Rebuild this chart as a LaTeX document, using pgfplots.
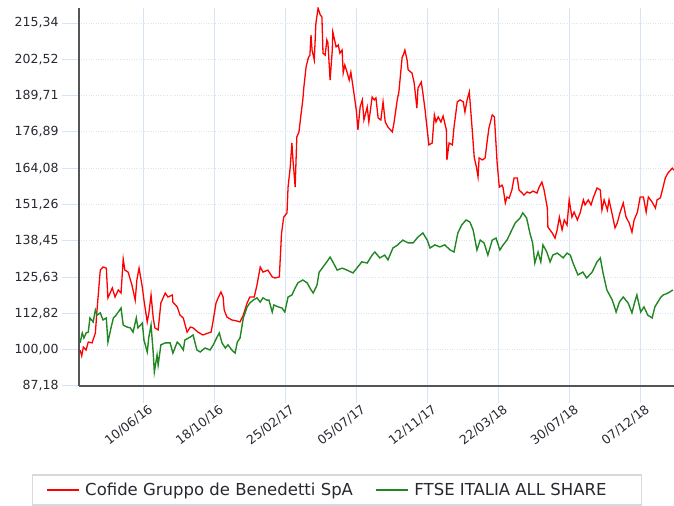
\documentclass[border=0pt]{standalone}
\usepackage{fontspec}
\setmainfont{DejaVu Sans}
\usepackage{pgfplots}
\pgfplotsset{compat=1.18}
\usepackage{pgfplotstable}
\definecolor{gridblue}{RGB}{214,228,245}
\definecolor{cred}{RGB}{255,0,0}
\definecolor{cgreen}{RGB}{34,134,34}
\definecolor{axisgray}{RGB}{85,85,85}
\definecolor{lblcol}{RGB}{40,40,50}

\pgfplotstableread{
day value
-116 99.9
-113 97.8
-110 100.9
-105 99.9
-101 102.7
-94 102.4
-88 105.9
-85 114.0
-79 128.1
-74 129.2
-68 128.8
-65 118.3
-57 121.8
-52 118.6
-46 121.1
-41 120.0
-37 132.0
-34 128.1
-28 127.4
-21 122.8
-15 117.5
-12 124.6
-8 128.8
-2 122.1
1 117.5
7 109.8
10 112.9
14 119.3
18 111.2
21 107.7
27 107.0
32 116.5
40 120.0
45 118.6
53 119.3
54 116.8
62 115.1
67 112.2
73 111.2
80 106.2
86 108.0
91 107.7
100 106.2
109 105.2
119 105.9
124 106.2
128 110.5
133 116.5
137 118.3
142 120.4
146 118.6
148 114.0
153 111.5
162 110.5
172 110.1
177 109.8
183 112.2
190 116.5
195 118.6
203 118.6
208 122.8
214 129.2
219 127.4
228 128.1
236 125.7
241 125.3
249 125.7
253 141.0
257 146.8
263 148.3
265 157.4
269 164.5
272 173.0
274 167.0
278 157.4
281 175.1
285 176.9
289 183.6
292 188.2
294 192.8
298 199.8
302 203.0
305 204.0
307 211.1
309 205.8
313 202.3
316 215.3
320 220.6
324 218.2
327 217.5
329 204.7
333 204.0
336 209.4
338 208.3
342 195.2
346 205.8
347 212.2
353 206.9
357 207.6
360 204.7
364 205.8
366 197.7
369 200.5
373 198.0
377 195.2
380 198.0
384 192.8
390 184.6
393 177.6
397 185.7
401 188.2
404 181.1
410 185.7
413 180.4
419 189.2
423 188.2
426 188.9
430 181.8
435 181.1
439 187.5
443 180.4
448 178.6
456 176.9
459 180.0
465 188.2
468 191.0
474 203.3
476 204.0
479 205.8
483 202.3
485 198.8
492 197.7
496 194.2
501 185.3
503 192.4
509 194.5
512 190.6
516 184.6
520 177.6
523 172.3
529 173.0
533 182.9
536 180.4
540 182.2
545 180.4
549 182.5
555 177.6
556 167.0
560 173.0
566 172.3
569 178.6
575 187.5
580 188.2
586 187.5
589 183.9
593 188.2
597 191.0
602 178.6
606 168.0
610 164.5
613 161.0
615 167.7
621 167.0
626 167.7
630 174.0
633 178.3
639 182.9
643 182.2
648 165.9
652 157.4
657 158.1
659 157.1
663 151.8
666 153.9
670 153.5
675 156.4
679 160.6
685 160.6
688 156.4
694 155.3
697 154.6
703 155.7
708 155.3
714 156.0
721 155.3
725 157.4
730 159.2
734 156.4
740 150.0
741 143.3
749 141.2
754 139.4
758 142.3
762 146.8
767 142.3
771 145.8
776 144.0
780 152.9
785 146.8
789 148.6
795 145.8
800 148.3
806 152.9
809 151.1
815 152.9
820 151.1
824 153.6
831 157.1
837 156.4
840 149.3
844 152.9
850 149.3
853 152.9
859 147.6
864 143.0
868 144.7
873 148.3
879 151.8
884 146.9
890 144.7
895 141.5
899 145.8
905 148.6
910 153.9
916 153.9
921 148.6
925 153.9
932 152.1
938 150.0
941 152.9
947 153.6
952 157.4
956 160.6
961 162.4
969 164.1
972 163.4
}\cofide

\pgfplotstableread{
day value
-116 102.4
-112 105.9
-109 104.1
-105 105.9
-101 106.2
-98 111.2
-92 109.8
-88 114.0
-85 112.2
-79 113.0
-74 110.5
-68 111.2
-65 102.7
-59 108.0
-55 111.2
-50 112.2
-46 113.3
-41 114.7
-37 108.7
-30 108.0
-24 107.7
-19 106.2
-13 111.2
-10 107.7
-2 109.4
1 103.4
7 99.2
10 104.5
14 108.7
18 98.8
20 92.1
25 98.1
27 94.6
32 101.7
40 102.4
49 102.4
54 98.8
62 102.7
67 101.7
73 99.9
76 103.4
86 104.5
91 105.2
98 99.9
104 99.2
113 100.6
122 99.9
128 101.7
135 104.5
139 105.9
144 102.4
150 100.6
155 101.7
162 99.9
168 98.8
172 102.7
177 104.1
183 111.2
190 115.1
195 116.5
201 117.5
208 118.3
214 116.8
219 118.3
226 117.5
230 117.5
236 113.3
239 115.8
247 115.1
254 114.7
259 113.3
265 118.6
272 119.3
278 121.8
283 123.6
292 124.6
300 123.6
305 121.8
311 120.0
318 122.8
322 127.4
329 129.2
336 131.0
342 132.7
347 131.0
355 128.1
364 128.8
373 128.1
384 127.1
391 128.8
400 131.0
410 130.6
419 133.4
424 134.5
433 132.4
442 133.4
448 131.7
457 135.9
466 137.0
475 138.7
485 137.7
494 137.7
503 139.8
512 141.2
520 138.7
525 135.9
534 137.0
543 136.3
552 137.0
562 135.2
569 134.5
576 141.2
583 144.0
591 145.8
598 145.1
604 142.3
611 135.2
617 138.7
624 137.7
631 133.4
639 138.7
646 139.4
653 135.2
659 137.0
666 138.7
673 141.5
681 144.7
690 146.5
695 148.3
702 146.5
708 141.2
713 137.7
717 130.6
723 134.5
728 131.0
732 137.0
739 134.5
745 131.0
750 133.4
758 134.1
763 133.4
769 132.4
776 134.1
782 133.4
787 130.6
796 126.4
805 127.4
812 125.3
822 127.4
831 131.0
837 132.4
842 127.1
849 121.1
859 117.5
866 113.3
872 116.8
879 118.6
888 116.5
895 113.0
900 116.8
904 119.3
911 113.3
917 115.1
924 112.2
932 111.2
937 115.1
947 118.3
952 119.3
961 120.0
970 121.1
}\ftse

\begin{document}
\begin{tikzpicture}
\path[use as bounding box] (0,0) rectangle (674bp,506bp);
\begin{axis}[
  at={(79bp,120bp)}, anchor=south west,
  scale only axis, width=595bp, height=378bp,
  xmin=-118, xmax=972, ymin=87.18, ymax=220.65,
  axis x line*=bottom, axis y line*=left,
  axis line style={-, line width=1.6bp, color=axisgray},
  xtick={0,130,260,390,520,650,780,910},
  xticklabels={10/06/16,18/10/16,25/02/17,05/07/17,12/11/17,22/03/18,30/07/18,07/12/18},
  ytick={87.18,100,112.82,125.63,138.45,151.26,164.08,176.89,189.71,202.52,215.34},
  yticklabels={{87,18},{100,00},{112,82},{125,63},{138,45},{151,26},{164,08},{176,89},{189,71},{202,52},{215,34}},
  tick align=outside,
  major tick length=17bp,
  tick style={color=gridblue, line width=1bp},
  xmajorgrids, ymajorgrids,
  x grid style={gridblue, line width=0.9bp},
  y grid style={gridblue, dotted, line width=0.9bp},
  ticklabel style={font=\fontsize{12.5bp}{15bp}\selectfont, text=lblcol},
  xticklabel style={rotate=38, anchor=north east, inner sep=0pt, xshift=3bp, yshift=-3bp},
  legend columns=2,
  legend cell align=left,
  legend image code/.code={\draw[#1, line width=2.5bp] (0bp,0bp) -- (32bp,0bp);},
  legend style={at={(axis description cs:-0.079,-0.2328)}, anchor=north west,
    draw=black!15, line width=1.5bp, inner xsep=13bp, inner ysep=6bp,
    font=\fontsize{16.5bp}{19bp}\selectfont, text=lblcol,
    /tikz/every odd column/.append style={column sep=3bp},
    /tikz/every even column/.append style={column sep=20bp}},
]
\addplot[cred, line width=1.3bp] table[x=day, y=value] {\cofide};
\addlegendentry{Cofide Gruppo de Benedetti SpA}
\addplot[cgreen, line width=1.4bp] table[x=day, y=value] {\ftse};
\addlegendentry{FTSE ITALIA ALL SHARE\hspace*{20bp}}
\end{axis}
\end{tikzpicture}
\end{document}
